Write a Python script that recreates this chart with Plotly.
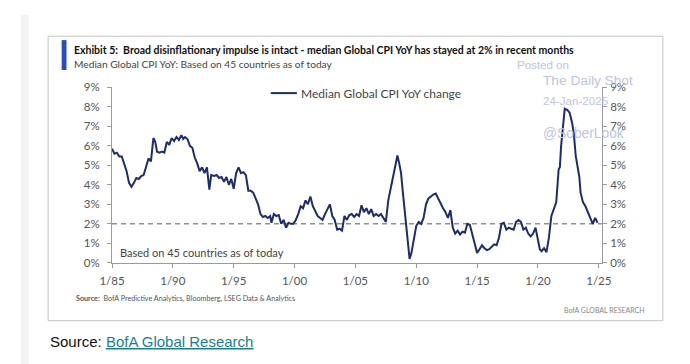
import plotly.graph_objects as go

# ---- data ----
years = [1985.0,1985.2,1985.4,1985.6,1985.8,1986.0,1986.2,1986.4,1986.6,1986.8,
         1987.0,1987.2,1987.4,1987.6,1987.8,1988.0,1988.2,1988.4,1988.55,1988.7,
         1988.9,1989.1,1989.3,1989.5,1989.7,1989.9,1990.1,1990.3,1990.5,1990.7,
         1990.85,1991.0,1991.2,1991.4,1991.6,1991.8,1992.0,1992.2,1992.4,1992.6,
         1992.8,1993.0,1993.15,1993.4,1993.6,1993.8,1994.0,1994.2,1994.4,1994.6,
         1994.8,1995.0,1995.2,1995.4,1995.6,1995.8,1996.0,1996.2,1996.4,1996.6,
         1996.8,1997.0,1997.2,1997.4,1997.6,1997.8,1998.0,1998.1,1998.3,1998.5,
         1998.7,1998.9,1999.1,1999.3,1999.5,1999.7,1999.9,2000.1,2000.3,2000.5,
         2000.7,2000.9,2001.1,2001.3,2001.5,2001.7,2001.9,2002.1,2002.3,2002.5,
         2002.7,2002.9,2003.1,2003.3,2003.5,2003.7,2003.9,2004.1,2004.3,2004.5,
         2004.7,2004.9,2005.1,2005.3,2005.5,2005.7,2005.9,2006.1,2006.3,2006.5,
         2006.7,2006.9,2007.1,2007.3,2007.5,2007.7,2007.9,2008.1,2008.3,2008.45,
         2008.6,2008.75,2008.9,2009.1,2009.3,2009.45,2009.6,2009.8,2010.0,2010.2,
         2010.4,2010.6,2010.8,2011.0,2011.2,2011.4,2011.6,2011.8,2012.0,2012.2,
         2012.4,2012.6,2012.8,2013.0,2013.2,2013.4,2013.6,2013.8,2014.0,2014.2,
         2014.4,2014.6,2014.8,2015.0,2015.2,2015.4,2015.6,2015.8,2016.0,2016.2,
         2016.4,2016.6,2016.8,2017.0,2017.2,2017.4,2017.6,2017.8,2018.0,2018.2,
         2018.4,2018.6,2018.8,2019.0,2019.2,2019.4,2019.6,2019.8,2020.0,2020.15,
         2020.3,2020.5,2020.7,2020.9,2021.1,2021.3,2021.5,2021.7,2021.8,2021.9,
         2022.1,2022.2,2022.4,2022.6,2022.8,2022.95,2023.1,2023.3,2023.4,2023.5,
         2023.7,2023.9,2024.1,2024.3,2024.5,2024.7,2024.9]
cpi_yoy = [5.85,5.6,5.65,5.45,5.45,5.1,4.7,4.1,3.9,4.1,
           4.35,4.3,4.45,4.5,5.0,5.35,5.2,6.4,6.2,5.7,
           5.65,5.7,5.65,6.2,6.05,6.4,6.25,6.45,6.3,6.55,
           6.35,6.45,6.35,6.0,5.9,5.4,5.1,4.7,4.9,4.6,
           4.9,3.75,4.5,4.45,4.5,4.35,4.4,4.15,4.4,4.0,
           4.3,3.8,4.6,4.9,4.6,4.65,4.5,3.7,3.7,3.6,
           3.3,3.0,2.5,2.35,2.4,2.3,2.4,2.05,2.5,2.4,
           2.45,2.0,2.2,1.8,2.05,2.0,2.0,2.2,2.5,2.9,
           2.8,3.2,3.0,3.4,2.9,2.6,2.4,2.3,2.2,2.5,
           2.75,3.0,2.4,2.2,1.7,1.75,1.65,2.4,2.2,2.45,
           2.5,2.35,2.5,2.4,2.95,2.6,2.8,2.5,2.75,2.4,
           2.5,2.4,2.5,2.3,2.1,3.2,3.8,4.3,4.9,5.5,
           5.1,4.6,3.6,2.3,0.8,0.2,0.5,1.3,1.9,2.1,
           2.0,2.3,3.0,3.3,3.4,3.5,3.55,3.3,3.0,2.8,
           2.6,2.3,2.7,1.8,1.5,1.65,1.45,1.6,1.55,2.0,
           1.95,1.5,1.0,0.5,0.7,0.9,0.75,0.65,0.7,0.85,
           0.95,0.9,1.3,2.0,2.05,1.7,1.8,1.75,1.7,2.1,
           2.2,2.1,1.7,1.8,1.5,1.35,1.5,1.8,1.2,0.7,
           0.6,0.75,0.55,1.3,2.4,2.7,3.1,4.8,4.9,6.0,
           7.2,7.9,7.85,7.7,7.2,6.6,5.5,4.6,4.4,3.6,
           3.1,2.9,2.6,2.3,2.0,2.3,2.05]

tick_years = [1985, 1990, 1995, 2000, 2005, 2010, 2015, 2020, 2025]
tick_labels = ["1/85", "1/90", "1/95", "1/00", "1/05", "1/10", "1/15", "1/20", "1/25"]
y_ticks = [0, 1, 2, 3, 4, 5, 6, 7, 8, 9]
y_labels = ["0%", "1%", "2%", "3%", "4%", "5%", "6%", "7%", "8%", "9%"]
target_level = 2

series_name = "Median Global CPI YoY change"
title_text = "Exhibit 5:  Broad disinflationary impulse is intact - median Global CPI YoY has stayed at 2% in recent months"
subtitle_text = "Median Global CPI YoY: Based on 45 countries as of today"
note_text = "Based on 45 countries as of today"

# ---- layout helpers ----
W, H = 690, 364
def px(x): return x / W
def py(y): return 1 - y / H

CHART_FONT = "Lato, Roboto, sans-serif"
ARIAL = "Liberation Sans, Arial, sans-serif"
LINE_COLOR = "#1c2c6c"
AXIS_COLOR = "#9a9a9a"
TICK_FONT = dict(family=CHART_FONT, size=11.5, color="#555555")

fig = go.Figure()
fig.add_trace(go.Scatter(x=years, y=cpi_yoy, mode="lines", name=series_name,
                         line=dict(color=LINE_COLOR, width=2), showlegend=False,
                         xaxis="x", yaxis="y"))
# invisible copy so the right-hand axis is drawn
fig.add_trace(go.Scatter(x=years, y=cpi_yoy, mode="lines", opacity=0,
                         line=dict(width=0), showlegend=False, hoverinfo="skip",
                         xaxis="x", yaxis="y2"))

x_lo, x_hi = 1985, 2025.25
common_y = dict(domain=[py(257), py(75)], range=[0, 9],
                tickvals=y_ticks, ticktext=y_labels,
                ticks="outside", ticklen=4, tickcolor=AXIS_COLOR,
                showline=True, linecolor=AXIS_COLOR, linewidth=1,
                showgrid=False, zeroline=False, tickfont=TICK_FONT)
fig.update_layout(
    width=W, height=H,
    margin=dict(l=0, r=0, t=0, b=0),
    paper_bgcolor="white", plot_bgcolor="white",
    xaxis=dict(domain=[px(94), px(600)], range=[x_lo, x_hi],
               tickvals=tick_years, ticktext=tick_labels,
               ticks="outside", ticklen=4, tickcolor=AXIS_COLOR,
               showline=True, linecolor=AXIS_COLOR, linewidth=1,
               showgrid=False, zeroline=False, tickfont=TICK_FONT, anchor="y",
               ticklabelstandoff=3),
    yaxis=dict(**common_y, anchor="x", ticklabelstandoff=5),
    yaxis2=dict(**common_y, overlaying="y", side="right", anchor="x",
                ticklabelstandoff=1),
)

shapes = [
    # page side strips
    dict(type="rect", xref="paper", yref="paper", x0=0, x1=px(8), y0=0, y1=1,
         line=dict(width=0), fillcolor="#f3f3f3", layer="below"),
    dict(type="rect", xref="paper", yref="paper", x0=px(683), x1=1, y0=0, y1=1,
         line=dict(width=0), fillcolor="#f3f3f3", layer="below"),
    # outer frame
    dict(type="rect", xref="paper", yref="paper", x0=px(28), x1=px(663),
         y0=py(317), y1=py(22), line=dict(color="#c4c4c4", width=1), layer="below"),
    # blue accent bar
    dict(type="rect", xref="paper", yref="paper", x0=px(42), x1=px(47),
         y0=py(57), y1=py(26), line=dict(width=0), fillcolor="#2b4cbf"),
    # 2% dashed reference
    dict(type="line", xref="x", yref="y", x0=x_lo, x1=x_hi, y0=target_level, y1=target_level,
         line=dict(color="#8f8f8f", width=1.5, dash="5px,4px"), layer="below"),
    # legend sample
    dict(type="line", xref="paper", yref="paper", x0=px(258), x1=px(285),
         y0=py(81), y1=py(81), line=dict(color=LINE_COLOR, width=2)),
]
fig.update_layout(shapes=shapes)

def ann(text, x, y, size, color="#222222", family=CHART_FONT, xanchor="left", yanchor="middle"):
    fig.add_annotation(text=text, xref="paper", yref="paper", x=px(x), y=py(y),
                       xanchor=xanchor, yanchor=yanchor, showarrow=False,
                       font=dict(family=family, size=size, color=color))

ann("<b>" + title_text + "</b>", 53, 36, 10.5, "#111111")
ann(subtitle_text, 53, 51, 10.2, "#444444")
ann(series_name, 287, 81, 12, "#444444")
ann(note_text, 100, 246, 11, "#444444")
ann("<b>Source:</b>  BofA Predictive Analytics, Bloomberg, LSEG Data &amp; Analytics", 55, 294, 7.2, "#555555")
ann("BofA GLOBAL RESEARCH", 647, 306, 7, "#888888", xanchor="right")

# watermark
WM = "#bfc3e0"
ann("Posted on", 510, 52, 11.5, WM, ARIAL)
ann("The Daily Shot", 537, 68, 13.7, WM, ARIAL)
ann("24-Jan-2025", 537, 89, 11.6, WM, ARIAL)
ann("@SoberLook", 537, 123, 13.8, WM, ARIAL)

# page caption below chart
ann("Source: <a href='#' style='color:#1a7f8e'><span style='text-decoration:underline'>BofA Global Research</span></a>",
    28, 339, 15, "#111111", ARIAL)

fig.write_html("out.html")
